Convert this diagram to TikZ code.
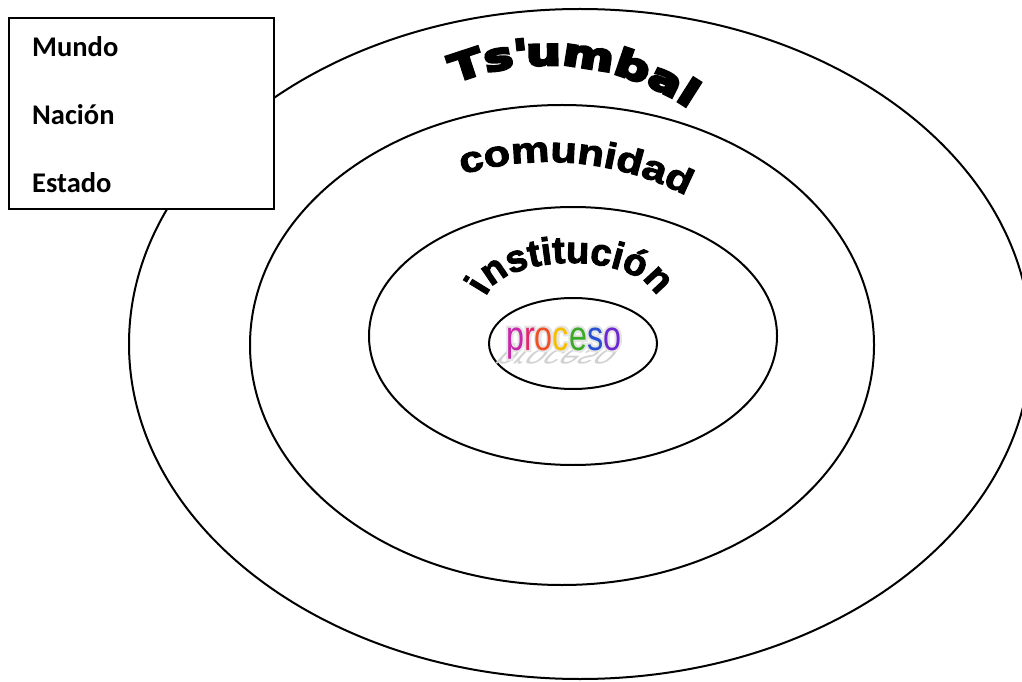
\documentclass[tikz,border=0pt]{standalone}
\usepackage{fontspec}
\setmainfont{Carlito}
\usetikzlibrary{decorations.text}
\newfontfamily\tsfont{DejaVu Sans Bold}[FakeStretch=1.33,FakeBold=8]
\newfontfamily\comfont{Liberation Sans Bold}[FakeStretch=1.2,FakeBold=3]
\newfontfamily\insfont{Liberation Sans Bold}[FakeBold=2.5]
\newfontfamily\profont{Liberation Sans}[FakeStretch=0.77]
\newfontfamily\proglow{Liberation Sans}[FakeStretch=0.77,FakeBold=10]
\definecolor{pA}{RGB}{200,40,170}
\definecolor{pB}{RGB}{225,40,110}
\definecolor{pC}{RGB}{240,80,40}
\definecolor{pD}{RGB}{245,190,0}
\definecolor{pE}{RGB}{60,170,40}
\definecolor{pF}{RGB}{40,80,210}
\definecolor{pG}{RGB}{110,40,210}
\begin{document}
\begin{tikzpicture}[x=1pt,y=1pt,
  ring/.style={line width=2pt},
  lbl/.style={anchor=base west, inner sep=0, font=\bfseries\fontsize{28.5}{30}\selectfont},
  proc/.style={anchor=base west, inner sep=0}]
\useasboundingbox (0,0) rectangle (1022,681);
% rings
\draw[ring] (580,337) ellipse [x radius=451pt, y radius=335pt];
\draw[ring] (562,336) ellipse [x radius=312pt, y radius=240pt];
\draw[ring] (573,345) ellipse [x radius=204pt, y radius=129pt];
\draw[ring] (573,337.5) ellipse [x radius=84pt, y radius=45.5pt];
% arched words
\path[decorate, decoration={text along path, text align=left,
  text={|\tsfont\fontsize{37}{37}\selectfont|Ts{\textquotesingle}umbal}}]
  ([shift={(112:250pt)}]548,366) arc[start angle=112, end angle=10, radius=250pt];
\path[decorate, decoration={text along path, text align=left,
  text={|\comfont\fontsize{36}{36}\selectfont|comunidad}}]
  ([shift={(106.6:300pt)}]548,219) arc[start angle=106.6, end angle=30, radius=300pt];
\path[decorate, decoration={text along path, text align=center,
  text={|\insfont\fontsize{38}{38}\selectfont|institución}}]
  ([shift={(200:86pt and 40pt)}]571,378) arc[start angle=200, end angle=-20, x radius=86pt, y radius=40pt];
% proceso
\begin{scope}[shift={(506,331)}, cm={1,0,-0.6,-0.65,(0,0)}]
  \node[proc, transform shape, text=black!18] (sombra) at (0,0)
    {\profont\fontsize{42}{42}\selectfont proceso};
\end{scope}
\node[proc, text=black!10] (brillo) at (506,331)
  {\proglow\fontsize{42}{42}\selectfont proceso};
\node[proc] (proceso) at (506,331)
  {\profont\fontsize{42}{42}\selectfont\textcolor{pA}{p}\textcolor{pB}{r}\textcolor{pC}{o}\textcolor{pD}{c}\textcolor{pE}{e}\textcolor{pF}{s}\textcolor{pG}{o}};
% box
\node[draw, line width=1.5pt, fill=white, anchor=north west, minimum width=265pt,
  minimum height=191pt, inner sep=0, outer sep=0] (caja) at (9,663) {};
\node[lbl] (mundo) at (32,624) {Mundo};
\node[lbl] (nacion) at (32,556) {Nación};
\node[lbl] (estado) at (32,488) {Estado};
\end{tikzpicture}
\end{document}
